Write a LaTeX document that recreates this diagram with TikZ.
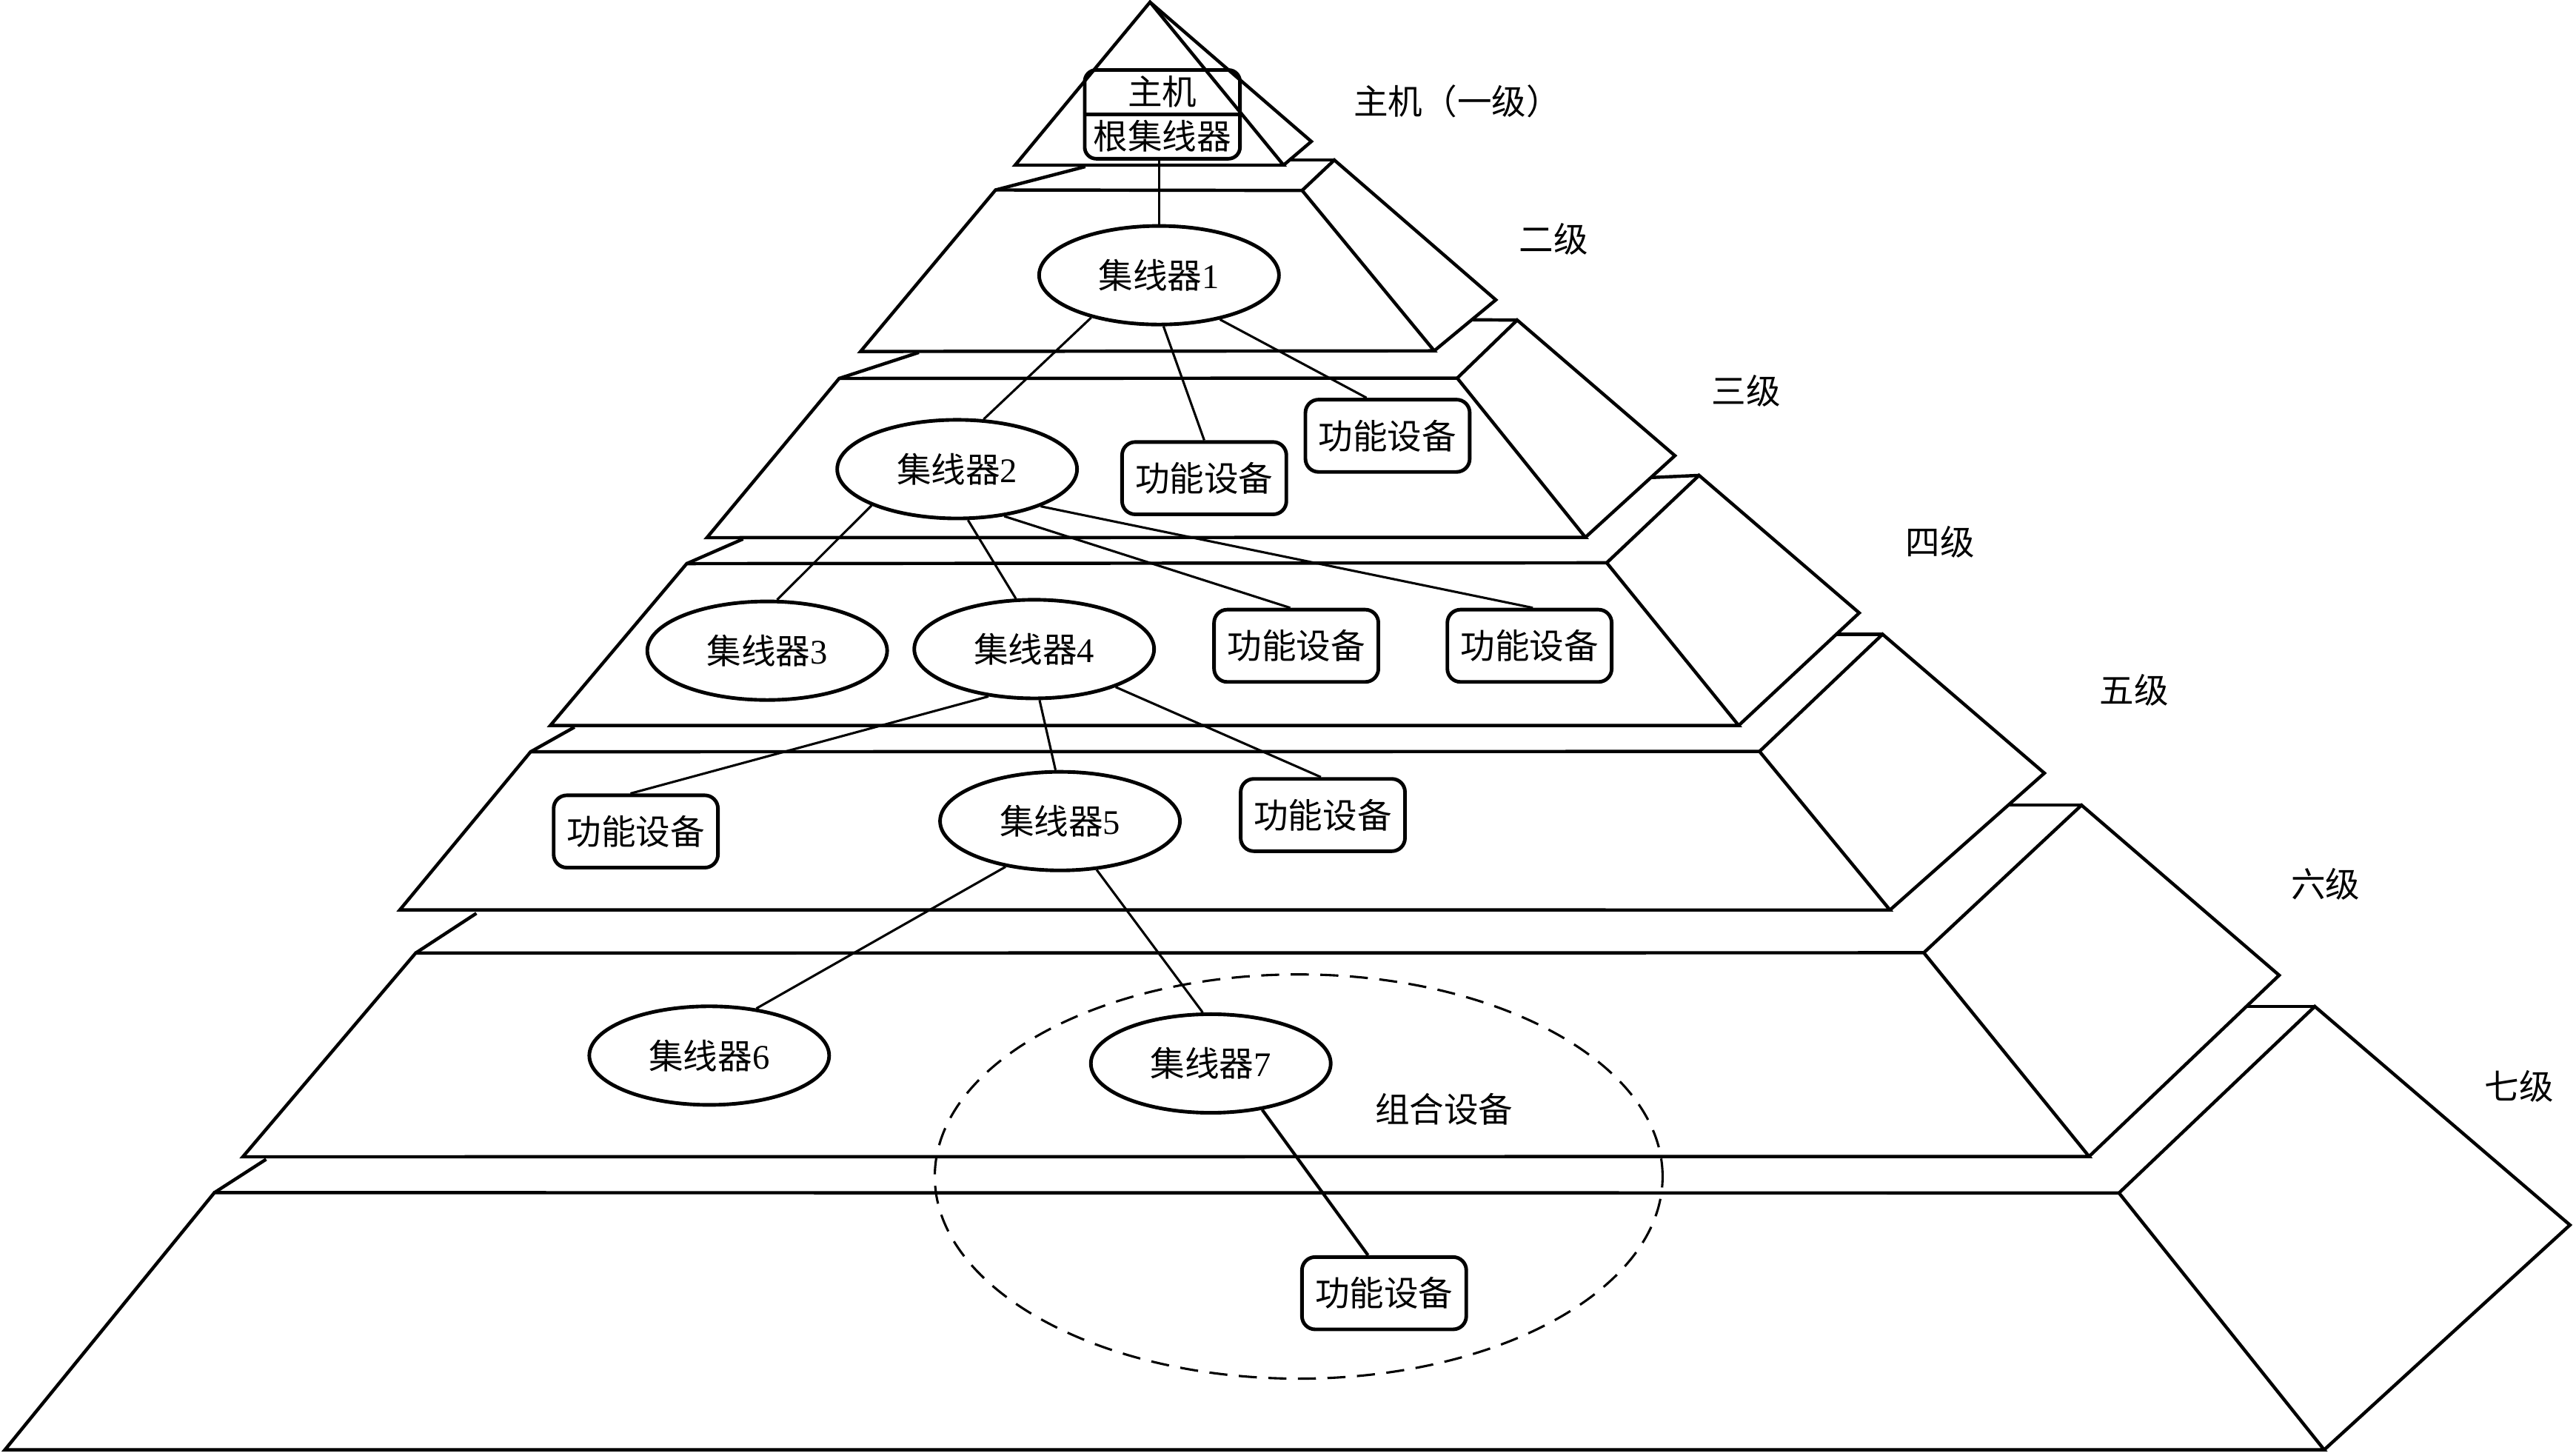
\documentclass[tikz,border=0pt]{standalone}
\usepackage{fontspec}
\setmainfont{Liberation Serif}
\newfontfamily\cjk{Noto Sans CJK SC}
\usetikzlibrary{shapes.geometric}
\begin{document}
\begin{tikzpicture}[x=1pt,y=-1pt,
  face/.style={line width=2pt, line join=miter},
  hub/.style={ellipse, draw, line width=2.2pt, minimum width=146pt, minimum height=60pt, inner sep=0pt, font=\fontsize{21pt}{24pt}\selectfont},
  dev/.style={draw, rounded corners=8pt, line width=2.2pt, minimum width=100pt, minimum height=44pt, inner sep=0pt, font=\cjk\fontsize{21pt}{24pt}\selectfont},
  lbl/.style={inner sep=0pt, font=\cjk\fontsize{21pt}{24pt}\selectfont},
  link/.style={line width=1.4pt},
  combo/.style={ellipse, draw, dash pattern=on 11pt off 7pt, line width=1.4pt, minimum width=443pt, minimum height=246pt, inner sep=0pt}]
\useasboundingbox (0,0) rectangle (1568,886);
% ---------- pyramid coordinates ----------
\coordinate (A) at (700,1.3);
\coordinate (BL1) at (617.9,100.5); \coordinate (BR1) at (781.3,100.5); \coordinate (Q1) at (798.2,86.1);
\coordinate (L2) at (660.6,101.4); \coordinate (TL2) at (606,115.6); \coordinate (TR2) at (792.6,115.9);
\coordinate (BR2) at (873,213.5); \coordinate (BL2) at (523.8,213.9); \coordinate (S2) at (784.5,97.4);
\coordinate (P2) at (812.2,97.4); \coordinate (Q2) at (910.5,182.5);
\coordinate (L3) at (559.3,214.5); \coordinate (TL3) at (510.8,230.3); \coordinate (TR3) at (887,230.1);
\coordinate (BR3) at (965,327); \coordinate (BL3) at (430.3,327.2); \coordinate (S3) at (896.5,194.6);
\coordinate (P3) at (923.5,194.8); \coordinate (Q3) at (1019.5,277.3);
\coordinate (L4) at (452.3,328); \coordinate (TL4) at (418,343); \coordinate (TR4) at (978,342.5);
\coordinate (BR4) at (1058.3,441.5); \coordinate (BL4) at (335,441.5); \coordinate (S4) at (1005.5,290.6);
\coordinate (P4) at (1034.2,289.3); \coordinate (Q4) at (1131.7,373);
\coordinate (L5) at (349.7,442.5); \coordinate (TL5) at (323,457.5); \coordinate (TR5) at (1071,457.3);
\coordinate (BR5) at (1150.4,553.8); \coordinate (BL5) at (243.4,553.7); \coordinate (S5) at (1118,386);
\coordinate (P5) at (1145.9,386); \coordinate (Q5) at (1244.4,470.5);
\coordinate (L6) at (290,555.8); \coordinate (TL6) at (253,580); \coordinate (TR6) at (1171,579.8);
\coordinate (BR6) at (1271.6,703.8); \coordinate (BL6) at (147.8,704); \coordinate (S6) at (1222.5,490);
\coordinate (P6) at (1267,490); \coordinate (Q6) at (1387.3,593.5);
\coordinate (L7) at (162,705.5); \coordinate (TL7) at (130.5,725.8); \coordinate (TR7) at (1289.8,726);
\coordinate (BR7) at (1414.7,882.3); \coordinate (BL7) at (3,882.3); \coordinate (S7) at (1367.8,612.5);
\coordinate (P7) at (1409,612.5); \coordinate (Q7) at (1564.3,745.5);
% shadow
\draw[gray!30, line width=1.9pt, xshift=1.6pt, yshift=-1.6pt] (TL7) -- (BL7) -- (BR7) -- (Q7);
% ---------- pyramid ----------
\draw[face] (A) -- (BL1) -- (BR1) -- cycle;
\draw[face] (A) -- (Q1) -- (BR1);
\foreach \n in {2,...,7}{
  \draw[face] (TL\n) -- (TR\n) -- (BR\n) -- (BL\n) -- cycle;
  \draw[face] (TR\n) -- (P\n) -- (Q\n) -- (BR\n);
  \draw[face] (L\n) -- (TL\n);
  \draw[face] (S\n) -- (P\n);
}
% ---------- combined device region ----------
\node[combo] (combo) at (790.5,716) {};
\node[lbl] (combotext) at (879,675) {组合设备};
% ---------- root box ----------
\node[draw, rounded corners=7pt, line width=2.2pt, minimum width=94.5pt, minimum height=54pt, inner sep=0pt] (root) at (707.5,69.6) {};
\draw[line width=2.2pt] (root.west) -- (root.east);
\node[lbl] (rootA) at (707.5,56) {主机};
\node[lbl] (rootB) at (707.5,83) {根集线器};
% ---------- hubs ----------
\node[hub] (C1) at (705.5,167.5) {{\cjk 集线器}1};
\node[hub] (C2) at (582.6,285.5) {{\cjk 集线器}2};
\node[hub] (C3) at (467,396) {{\cjk 集线器}3};
\node[hub] (C4) at (629.5,395) {{\cjk 集线器}4};
\node[hub] (C5) at (645.2,499.7) {{\cjk 集线器}5};
\node[hub] (C6) at (431.7,642.4) {{\cjk 集线器}6};
\node[hub] (C7) at (737,647.2) {{\cjk 集线器}7};
% ---------- devices ----------
\node[dev] (DA) at (733,291) {功能设备};
\node[dev] (DB) at (844.6,265.2) {功能设备};
\node[dev] (DC) at (789,393) {功能设备};
\node[dev] (DD) at (931,393) {功能设备};
\node[dev] (DE) at (387,506) {功能设备};
\node[dev] (DF) at (805.2,496) {功能设备};
\node[dev] (DG) at (842.5,787) {功能设备};
% ---------- level labels ----------
\node[lbl] (lv1) at (887,61.6) {主机（一级）};
\node[lbl] (lv2) at (945.6,145.7) {二级};
\node[lbl] (lv3) at (1063,238) {三级};
\node[lbl] (lv4) at (1181,330) {四级};
\node[lbl] (lv5) at (1299,420) {五级};
\node[lbl] (lv6) at (1415.5,538) {六级};
\node[lbl] (lv7) at (1533.5,661) {七级};
% ---------- connectors ----------
\draw[link] (C1.north |- root.south) -- (C1.north);
\draw[link] (C1.212) -- (C2.62);
\draw[link] (C1.275) -- (DA.north);
\draw[link] (C1.324) -- (DB.119);
\draw[link] (C2.203) -- (C3.79);
\draw[link] (C2.282) -- (C4.110);
\draw[link] (C2.315) -- (DC.99);
\draw[link] (C2.336) -- (DD.85);
\draw[link] (C4.226) -- (DE.98);
\draw[link] (C4.276) -- (C5.95);
\draw[link] (C4.335) -- (DF.93);
\draw[link] (C5.220) -- (C6.45);
\draw[link] (C5.307) -- (C7.99);
\draw[link, line width=1.9pt] (C7.318) -- (DG.113);
\end{tikzpicture}
\end{document}
